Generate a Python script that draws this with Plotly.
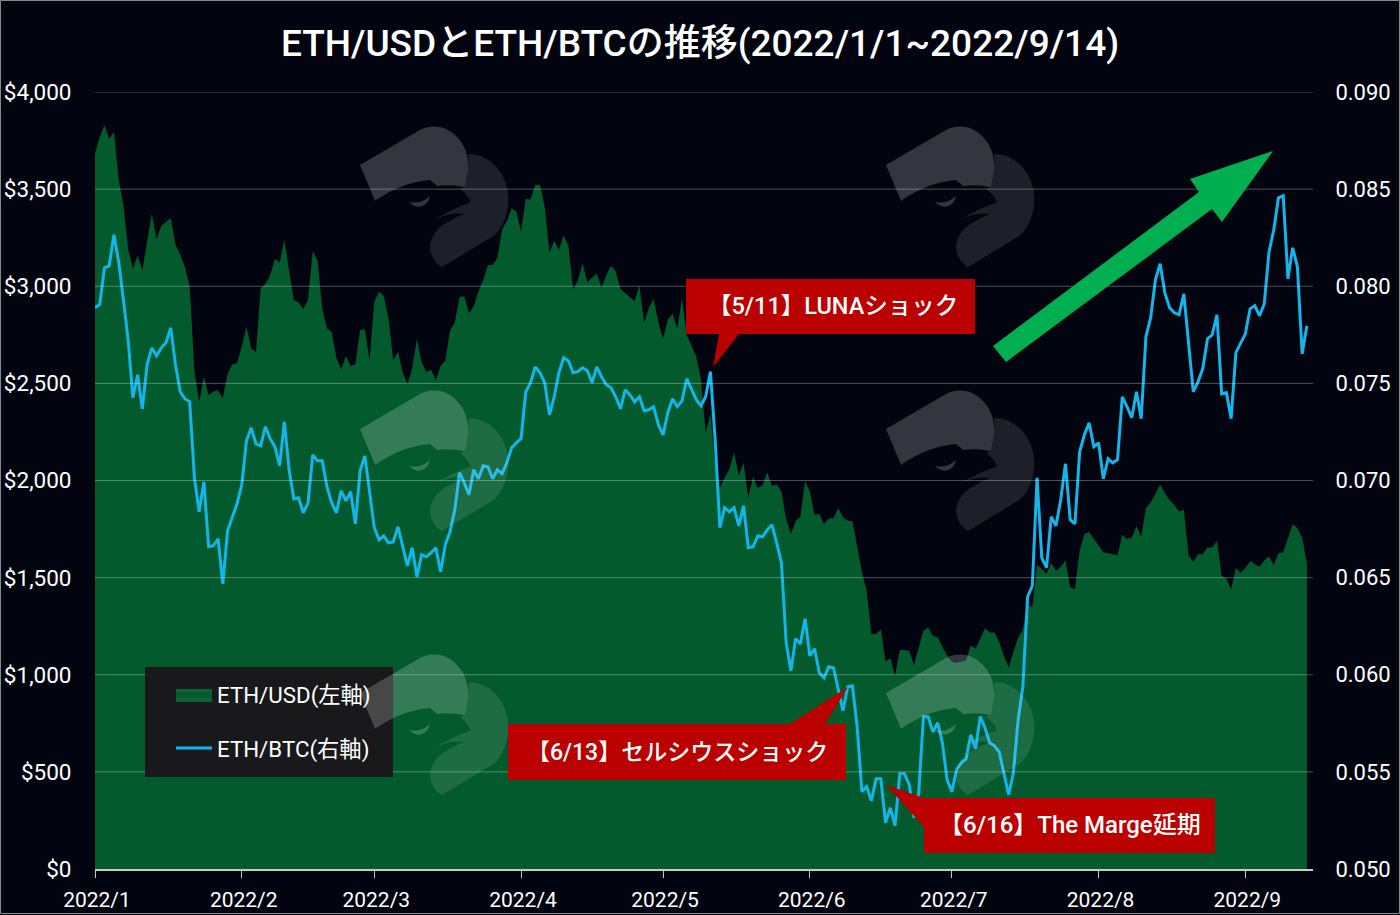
import pandas as pd
import plotly.graph_objects as go

# ETH/USD, one value per day
eth_usd = [
    3683, 3769, 3829, 3761, 3794, 3550, 3418, 3193, 3092, 3157, 3083, 3239, 3374, 3242, 3310, 3331,
    3351, 3213, 3164, 3098, 3001, 2562, 2406, 2536, 2440, 2458, 2465, 2424, 2547, 2598, 2603,
    2688, 2792, 2681, 2660, 2990, 3011, 3057, 3142, 3122, 3240, 3079, 2928, 2917, 2883, 2930, 3180,
    3133, 2885, 2782, 2764, 2629, 2574, 2640, 2590, 2598, 2774, 2780, 2618,
    2920, 2972, 2950, 2834, 2618, 2664, 2555, 2497, 2575, 2729, 2608, 2558, 2570, 2517, 2590, 2618,
    2772, 2815, 2945, 2949, 2861, 2897, 2973, 3031, 3108, 3110, 3145, 3293, 3335, 3401, 3385,
    3281, 3450, 3445, 3522, 3521, 3409, 3172, 3234, 3188, 3262, 3210, 2982, 3030, 3118, 3020, 3044,
    3065, 2993, 3057, 3105, 3076, 2986, 2965, 2943, 2923, 3007, 2810, 2889, 2935, 2816,
    2730, 2828, 2858, 2782, 2940, 2749, 2697, 2640, 2519, 2245, 2344, 2080, 1960, 2014, 2058, 2146,
    2024, 2091, 1914, 2018, 1961, 1974, 2043, 1973, 1979, 1944, 1801, 1725, 1792, 1813, 1997,
    1943, 1823, 1829, 1775, 1805, 1806, 1858, 1812, 1793, 1790, 1664, 1530, 1433, 1208, 1210, 1233,
    1068, 1085, 995, 1127, 1127, 1124, 1050, 1143, 1226, 1243, 1200, 1193, 1144, 1098,
    1067, 1060, 1067, 1074, 1150, 1134, 1187, 1239, 1217, 1218, 1168, 1097, 1038, 1112, 1192, 1233,
    1354, 1350, 1565, 1545, 1520, 1575, 1535, 1555, 1590, 1450, 1440, 1640, 1725, 1735, 1700,
    1665, 1630, 1625, 1620, 1615, 1720, 1700, 1705, 1765, 1710, 1860, 1885, 1930, 1980, 1935, 1900,
    1875, 1840, 1850, 1615, 1580, 1620, 1620, 1655, 1655, 1690, 1510, 1495, 1440, 1550, 1525,
    1550, 1585, 1570, 1555, 1590, 1610, 1565, 1625, 1630, 1700, 1775, 1755, 1705, 1575,
]

# ETH/BTC, one value per day
eth_btc = [
    .0789, .07905, .08095, .08105, .08265, .08126, .0793, .07724, .07426, .07544, .07369, .07596,
    .07683, .07642, .07683, .07709, .07786, .07596, .07457, .07421, .07405, .07014, .06839, .06993,
    .06659, .06664, .067, .06468, .06741, .06813, .0688,
    .06978, .07205, .07271, .07189, .07179, .07277, .07215, .07174, .07076, .07302, .07055, .06906,
    .06911, .06834, .06885, .07132, .07102, .07102, .06968, .06885, .06834, .06947, .06896, .06942,
    .06777, .0705, .07127, .06952,
    .06757, .06695, .06715, .06679, .06684, .06762, .06659, .06561, .06654, .06504, .06618, .06607,
    .06628, .06654, .0653, .06669, .06736, .06849, .0704, .06988, .06927, .07055, .07009, .07076,
    .07071, .07009, .07055, .07035, .07091, .07168, .07194,
    .07215, .07457, .07503, .07585, .07555, .07503, .07338, .07431, .07555, .07632, .07616, .07555,
    .0756, .0758, .07565, .07503, .07585, .07534, .07493, .07477, .07431, .07369, .07467, .07441,
    .07405, .07431, .07359, .07364, .0738, .07287,
    .07235, .07349, .07421, .0738, .0741, .07524, .07467, .07416, .07385, .07431, .0756, .0721,
    .06757, .0686, .06839, .0686, .06767, .0687, .06654, .06659, .06715, .0671, .06746, .06772,
    .06679, .06576, .06165, .0602, .06185, .06159, .06288,
    .06098, .06134, .0601, .05984, .06041, .06036, .05933, .05815, .05938, .05943, .05732, .05398,
    .05424, .05351, .05464, .05464, .05238, .05315, .05223, .0549, .0549, .05434, .05264, .05392,
    .05784, .05784, .05706, .05753, .0565, .05459,
    .05398, .05511, .05547, .05567, .05691, .05619, .05784, .05727, .0565, .05634, .05603, .05495,
    .05382, .05495, .05768, .05938, .06401, .06458, .07014, .06602, .06551, .06813, .06767, .06901,
    .07086, .06798, .06777, .07148, .07235, .07297, .07174,
    .07194, .07009, .07112, .07091, .07107, .07431, .0738, .07323, .07457, .07318, .0774, .07838,
    .08033, .08116, .07966, .07889, .07863, .07853, .07961, .07724, .07457, .07508, .07575, .0773,
    .0775, .07853, .07446, .07452, .07318, .07658, .07709,
    .07755, .07884, .079, .07848, .0791, .08177, .08291, .08455, .08466, .08038, .08198, .081,
    .07652, .07797,
]

month_starts = ["2022-01-01", "2022-02-01", "2022-03-01", "2022-04-01", "2022-05-01",
                "2022-06-01", "2022-07-01", "2022-08-01", "2022-09-01"]
month_labels = ["2022/1", "2022/2", "2022/3", "2022/4", "2022/5", "2022/6", "2022/7", "2022/8", "2022/9"]
usd_ticks = [0, 500, 1000, 1500, 2000, 2500, 3000, 3500, 4000]
usd_labels = ["$0", "$500", "$1,000", "$1,500", "$2,000", "$2,500", "$3,000", "$3,500", "$4,000"]
btc_ticks = [.05, .055, .06, .065, .07, .075, .08, .085, .09]
btc_labels = ["0.050", "0.055", "0.060", "0.065", "0.070", "0.075", "0.080", "0.085", "0.090"]

assert len(eth_usd) == 257 and len(eth_btc) == 257
dates = pd.date_range("2022-01-01", periods=len(eth_usd))

FONT = "Roboto, 'Noto Sans CJK JP', sans-serif"
BG = "#02040f"
RED = "#bb0000"
GREEN = "#035a2d"

# plot area in page pixels
LEFT, RIGHT, TOP, BOTTOM = 95, 1313, 92, 869


def px(x):
    return (x - LEFT) / (RIGHT - LEFT)


def py(y):
    return (BOTTOM - y) / (BOTTOM - TOP)


def polygon(points):
    return "M " + " L ".join(f"{px(x):.5f},{py(y):.5f}" for x, y in points) + " Z"


def curve(cmds, ox, oy):
    # cmds are in a 3x crop of the logo, origin (340,110)
    out = []
    for c in cmds:
        pts = c[1:]
        xy = [f"{px(340 + pts[i] / 3 + ox):.5f},{py(110 + pts[i + 1] / 3 + oy):.5f}" for i in range(0, len(pts), 2)]
        out.append(c[0] + " " + " ".join(xy))
    return " ".join(out)


logo_head = [("M", 60, 165), ("L", 240, 60), ("C", 270, 42, 320, 45, 350, 80), ("C", 375, 105, 385, 135, 385, 175),
             ("L", 375, 232), ("Q", 335, 222, 292, 228), ("L", 270, 210), ("Q", 190, 215, 105, 272), ("Z",)]
logo_eye = [("M", 208, 275), ("Q", 240, 285, 270, 258), ("Q", 265, 285, 240, 290), ("Q", 218, 290, 208, 275), ("Z",)]
logo_neck = [("M", 385, 133), ("C", 450, 130, 505, 195, 505, 265), ("C", 505, 310, 490, 350, 465, 375),
             ("L", 305, 472), ("Q", 272, 450, 270, 410), ("Q", 275, 360, 325, 335), ("Q", 350, 320, 372, 312),
             ("Q", 330, 305, 285, 328), ("Q", 340, 295, 393, 277), ("Q", 385, 255, 360, 236), ("L", 375, 232),
             ("L", 385, 175), ("Z",)]

shapes = []

# gridlines sit on top of the green area
for t in usd_ticks[1:]:
    shapes.append(dict(type="line", xref="paper", yref="y", x0=0, x1=1, y0=t, y1=t,
                       line=dict(color="rgba(255,255,255,0.3)", width=1)))

# legend box and the thicker area key
shapes.append(dict(type="rect", xref="paper", yref="paper", x0=px(145), x1=px(393), y0=py(777), y1=py(667),
                   fillcolor="#19191b", line_width=0))
shapes.append(dict(type="rect", xref="paper", yref="paper", x0=px(176), x1=px(212), y0=py(702), y1=py(689),
                   fillcolor="#0c6234", line_width=0))

# callouts
callouts = [
    [(686, 279), (975, 279), (975, 334), (739, 334), (713, 367), (719, 334), (686, 334)],
    [(508, 724), (790, 724), (848, 687), (825, 724), (846, 724), (846, 780), (508, 780)],
    [(924, 798), (886, 785), (924, 827), (924, 853), (1215, 853), (1215, 798)],
]
for c in callouts:
    shapes.append(dict(type="path", xref="paper", yref="paper", path=polygon(c), fillcolor=RED, line_width=0))

# green arrow
arrow = [(993, 346), (1199, 192), (1190, 179), (1273, 151), (1222, 222), (1212, 209), (1006, 362)]
shapes.append(dict(type="path", xref="paper", yref="paper", path=polygon(arrow), fillcolor="#00b050", line_width=0))

# watermark
for ox in [0, 526]:
    for oy in [0, 264, 528]:
        shapes.append(dict(type="path", xref="paper", yref="paper", path=curve(logo_head, ox, oy),
                           fillcolor="rgba(255,255,255,0.2)", line_width=0))
        shapes.append(dict(type="path", xref="paper", yref="paper", path=curve(logo_eye, ox, oy),
                           fillcolor="rgba(255,255,255,0.2)", line_width=0))
        shapes.append(dict(type="path", xref="paper", yref="paper", path=curve(logo_neck, ox, oy),
                           fillcolor="rgba(255,255,255,0.11)", line_width=0))

# thin frame of the image
shapes.append(dict(type="rect", xref="paper", yref="paper", x0=px(0.5), x1=px(1399.5), y0=py(913.5), y1=py(0.5),
                   line=dict(color="#8a8a8a", width=1)))

notes = [
    ("【5/11】LUNAショック", 833, 306, 23.5),
    ("【6/13】セルシウスショック", 677, 752, 23),
    ("【6/16】The Marge延期", 1070, 825, 24),
]
annotations = [dict(text=t, xref="paper", yref="paper", x=px(x), y=py(y), showarrow=False,
                    xanchor="center", yanchor="middle", font=dict(family=FONT, size=s, color="white", weight=500))
               for t, x, y, s in notes]

fig = go.Figure()
fig.add_trace(go.Scatter(x=dates, y=eth_usd, name="ETH/USD(左軸)", mode="lines", yaxis="y",
                         fill="tozeroy", fillcolor=GREEN, line=dict(width=0, color=GREEN),
                         legendgroup="a"))
fig.add_trace(go.Scatter(x=dates, y=eth_btc, name="ETH/BTC(右軸)", mode="lines", yaxis="y2",
                         line=dict(color="#14b5ea", width=3), legendgroup="b"))

fig.update_layout(
    width=1400, height=915,
    margin=dict(l=LEFT, r=1400 - RIGHT, t=TOP, b=915 - BOTTOM, autoexpand=False),
    paper_bgcolor=BG, plot_bgcolor=BG,
    font=dict(family=FONT, color="white", size=22),
    title=dict(text="ETH/USDとETH/BTCの推移(2022/1/1~2022/9/14)", x=0.5, xref="container", xanchor="center",
               y=1 - 43 / 915, yref="container", yanchor="middle",
               font=dict(family=FONT, size=37, color="white", weight=500)),
    xaxis=dict(type="date", range=["2022-01-01", "2022-09-15 07:00"], tickvals=month_starts, ticktext=month_labels,
               showgrid=False, zeroline=False, showline=True, linecolor="#c8ccc4", linewidth=2,
               ticks="outside", ticklen=7, tickcolor="#c8ccc4", tickwidth=1, ticklabelstandoff=4, ticklabelshift=2,
               tickfont=dict(size=21, color="white")),
    yaxis=dict(range=[0, 4000], tickvals=usd_ticks, ticktext=usd_labels, showgrid=False, zeroline=False,
               ticks="outside", ticklen=18, tickcolor="rgba(0,0,0,0)", tickfont=dict(size=22.5, color="white")),
    yaxis2=dict(range=[.05, .09], tickvals=btc_ticks, ticktext=btc_labels, overlaying="y", side="right",
                showgrid=False, zeroline=False, ticks="outside", ticklen=17, tickcolor="rgba(0,0,0,0)",
                tickfont=dict(size=22, color="white")),
    legend=dict(xref="paper", yref="paper", x=px(171), y=py(673), xanchor="left", yanchor="top",
                bgcolor="rgba(0,0,0,0)", traceorder="grouped", tracegroupgap=22, itemwidth=36,
                font=dict(family=FONT, size=22.3, color="white")),
    shapes=shapes,
    annotations=annotations,
)

fig.write_html("out.html", config={"displayModeBar": False},
               post_script="document.body.style.margin='0';document.body.style.overflow='hidden';document.documentElement.style.background='#02040f';")
